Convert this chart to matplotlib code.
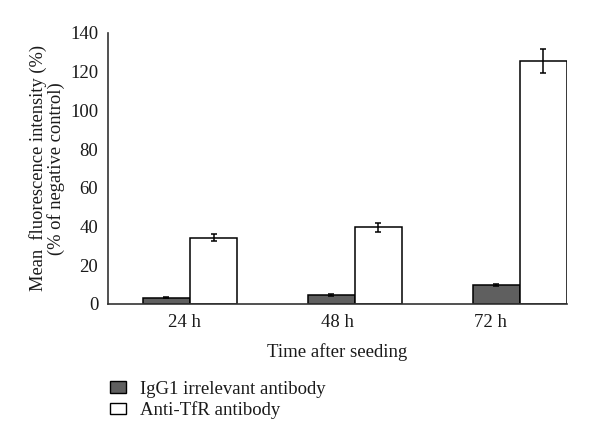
# Mean fluorescence intensity after seeding, grouped bars
import numpy as np
import matplotlib
matplotlib.use("Agg")
import matplotlib.pyplot as plt
from matplotlib.patches import Patch

times = ["24 h", "48 h", "72 h"]
igg = [3.3, 4.6, 9.7]
igg_err = [0.3, 0.4, 0.6]
tfr = [34.3, 39.6, 125.3]
tfr_err = [2.0, 2.2, 6.2]
series_names = ["IgG1 irrelevant antibody", "Anti-TfR antibody"]

plt.rcParams['font.family'] = ['Liberation Serif', 'DejaVu Serif']

fig = plt.figure(figsize=(6, 4.45), dpi=100)
ax = fig.add_axes([0.18, 0.317, 0.765, 0.609])

x = np.arange(len(times))
w = 0.285
ax.bar(x - w / 2, igg, w, color="#5f5f5f", edgecolor="black", linewidth=1.1,
       yerr=igg_err, error_kw=dict(ecolor="black", elinewidth=1.1, capsize=2, capthick=1.1))
ax.bar(x + w / 2, tfr, w, color="white", edgecolor="black", linewidth=1.1,
       yerr=tfr_err, error_kw=dict(ecolor="black", elinewidth=1.1, capsize=2, capthick=1.1))

x0, x1 = -0.497, 2.285
ax.set_xlim(x0, x1)
ax.set_ylim(0, 140)
ax.set_yticks(np.arange(0, 141, 20))
# labels sit at the middle of each third of the axis
edges = np.linspace(x0, x1, 4)
ax.set_xticks((edges[:-1] + edges[1:]) / 2)
ax.set_xticklabels(times)
ax.tick_params(length=0, labelsize=13.5, colors="#1a1a1a")
ax.tick_params(axis="y", pad=7)
ax.tick_params(axis="x", pad=7)

for s in ["top", "right"]:
    ax.spines[s].set_visible(False)
for s in ["left", "bottom"]:
    ax.spines[s].set_linewidth(1.2)
    ax.spines[s].set_color("#333333")

ax.set_xlabel("Time after seeding", fontsize=13.5, labelpad=9, color="#1a1a1a")
ax.set_ylabel("Mean  fluorescence intensity (%)\n(% of negative control)",
              fontsize=13.3, labelpad=4, color="#1a1a1a", linespacing=1.0)

handles = [Patch(facecolor="#5f5f5f", edgecolor="black", linewidth=1.0),
           Patch(facecolor="white", edgecolor="black", linewidth=1.0)]
fig.legend(handles, series_names, loc="upper left", bbox_to_anchor=(0.161, 0.174),
           frameon=False, fontsize=13.5, handlelength=0.85, handleheight=0.55,
           handletextpad=0.75, labelspacing=0.2, labelcolor="#1a1a1a",
           borderpad=0.2)

fig.savefig("out.png", dpi=100)
